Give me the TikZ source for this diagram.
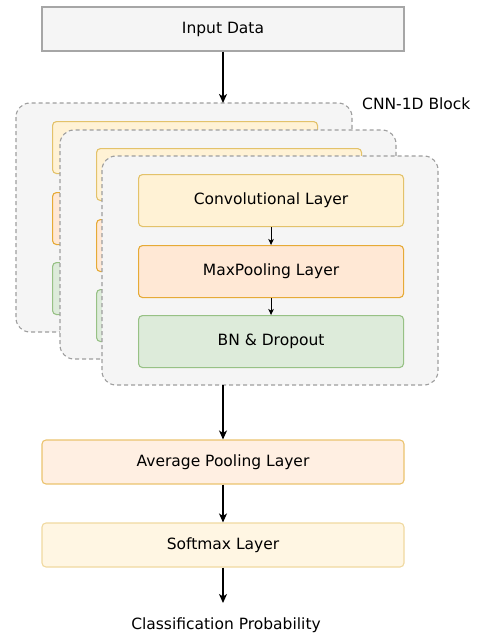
\documentclass[tikz,border=0pt]{standalone}
\usepackage{fontspec}
\setmainfont{DejaVu Sans}
\usetikzlibrary{arrows.meta}
\definecolor{grayfill}{HTML}{F5F5F5}
\definecolor{graystroke}{HTML}{9E9E9E}
\definecolor{inpstroke}{HTML}{A6A6A6}
\definecolor{convfill}{HTML}{FFF2D5}
\definecolor{convstroke}{HTML}{E3C26A}
\definecolor{mpfill}{HTML}{FFE8D5}
\definecolor{mpstroke}{HTML}{E6AA36}
\definecolor{bnfill}{HTML}{DDEBDA}
\definecolor{bnstroke}{HTML}{97C185}
\definecolor{avgfill}{HTML}{FFEFE2}
\definecolor{avgstroke}{HTML}{EBC36E}
\definecolor{smfill}{HTML}{FFF6E3}
\definecolor{smstroke}{HTML}{F0D9A0}
\tikzset{
  lbl/.style={font=\fontsize{15.5}{18}\selectfont, text=black},
  panel/.style={draw=graystroke, fill=grayfill, dash pattern=on 4pt off 3pt, line width=1.1pt, rounded corners=14pt},
  layerbox/.style={rounded corners=4pt, line width=1.1pt, lbl},
  convbox/.style={layerbox, draw=convstroke, fill=convfill},
  mpbox/.style={layerbox, draw=mpstroke, fill=mpfill},
  bnbox/.style={layerbox, draw=bnstroke, fill=bnfill},
  arr/.style={-{Stealth[length=9pt,width=8pt,inset=2.5pt]}, line width=1.5pt, black},
  sarr/.style={-{Stealth[length=6pt,width=5.5pt,inset=1.5pt]}, line width=1pt, black},
}
\begin{document}
\begin{tikzpicture}[x=1pt,y=-1pt]
\useasboundingbox (0,0) rectangle (484,634);
% Input
\node[draw=inpstroke, fill=grayfill, line width=1.1pt, lbl, minimum width=362pt, minimum height=44pt, inner sep=0pt] (inp) at (223,29) {Input Data};
% Panels
\foreach \i/\px/\py in {1/16/103, 2/60/130, 3/102/156}{
  \draw[panel] (\px,\py) rectangle ++(336,229);
  \node[convbox, minimum width=265pt, minimum height=52pt, inner sep=0pt, anchor=north west] (conv\i) at (\px+36,\py+18) {};
  \node[mpbox, minimum width=265pt, minimum height=52pt, inner sep=0pt, anchor=north west] (mp\i) at (\px+36,\py+89) {};
  \node[bnbox, minimum width=265pt, minimum height=52pt, inner sep=0pt, anchor=north west] (bn\i) at (\px+36,\py+159) {};
}
\coordinate (p1top) at (223,103);
\coordinate (p3bot) at (223,385);
\node[lbl] at (conv3) {Convolutional Layer};
\node[lbl] at (mp3) {MaxPooling Layer};
\node[lbl] at (bn3) {BN \& Dropout};
\node[lbl, anchor=west, inner sep=0pt] (cnnlbl) at (362,104) {CNN-1D Block};
\draw[sarr] (conv3.south) -- (mp3.north);
\draw[sarr] (mp3.south) -- (bn3.north);
% bottom
\node[layerbox, draw=avgstroke, fill=avgfill, minimum width=362pt, minimum height=44pt, inner sep=0pt] (avg) at (223,462) {Average Pooling Layer};
\node[layerbox, draw=smstroke, fill=smfill, minimum width=362pt, minimum height=44pt, inner sep=0pt] (sm) at (223,545) {Softmax Layer};
\node[lbl, inner sep=0pt] (out) at (226,625) {Classification Probability};
\coordinate (outtip) at (223,603);
\draw[arr] (inp.south) -- (p1top);
\draw[arr] (p3bot) -- (avg.north);
\draw[arr] (avg.south) -- (sm.north);
\draw[arr] (sm.south) -- (outtip);
\end{tikzpicture}
\end{document}
